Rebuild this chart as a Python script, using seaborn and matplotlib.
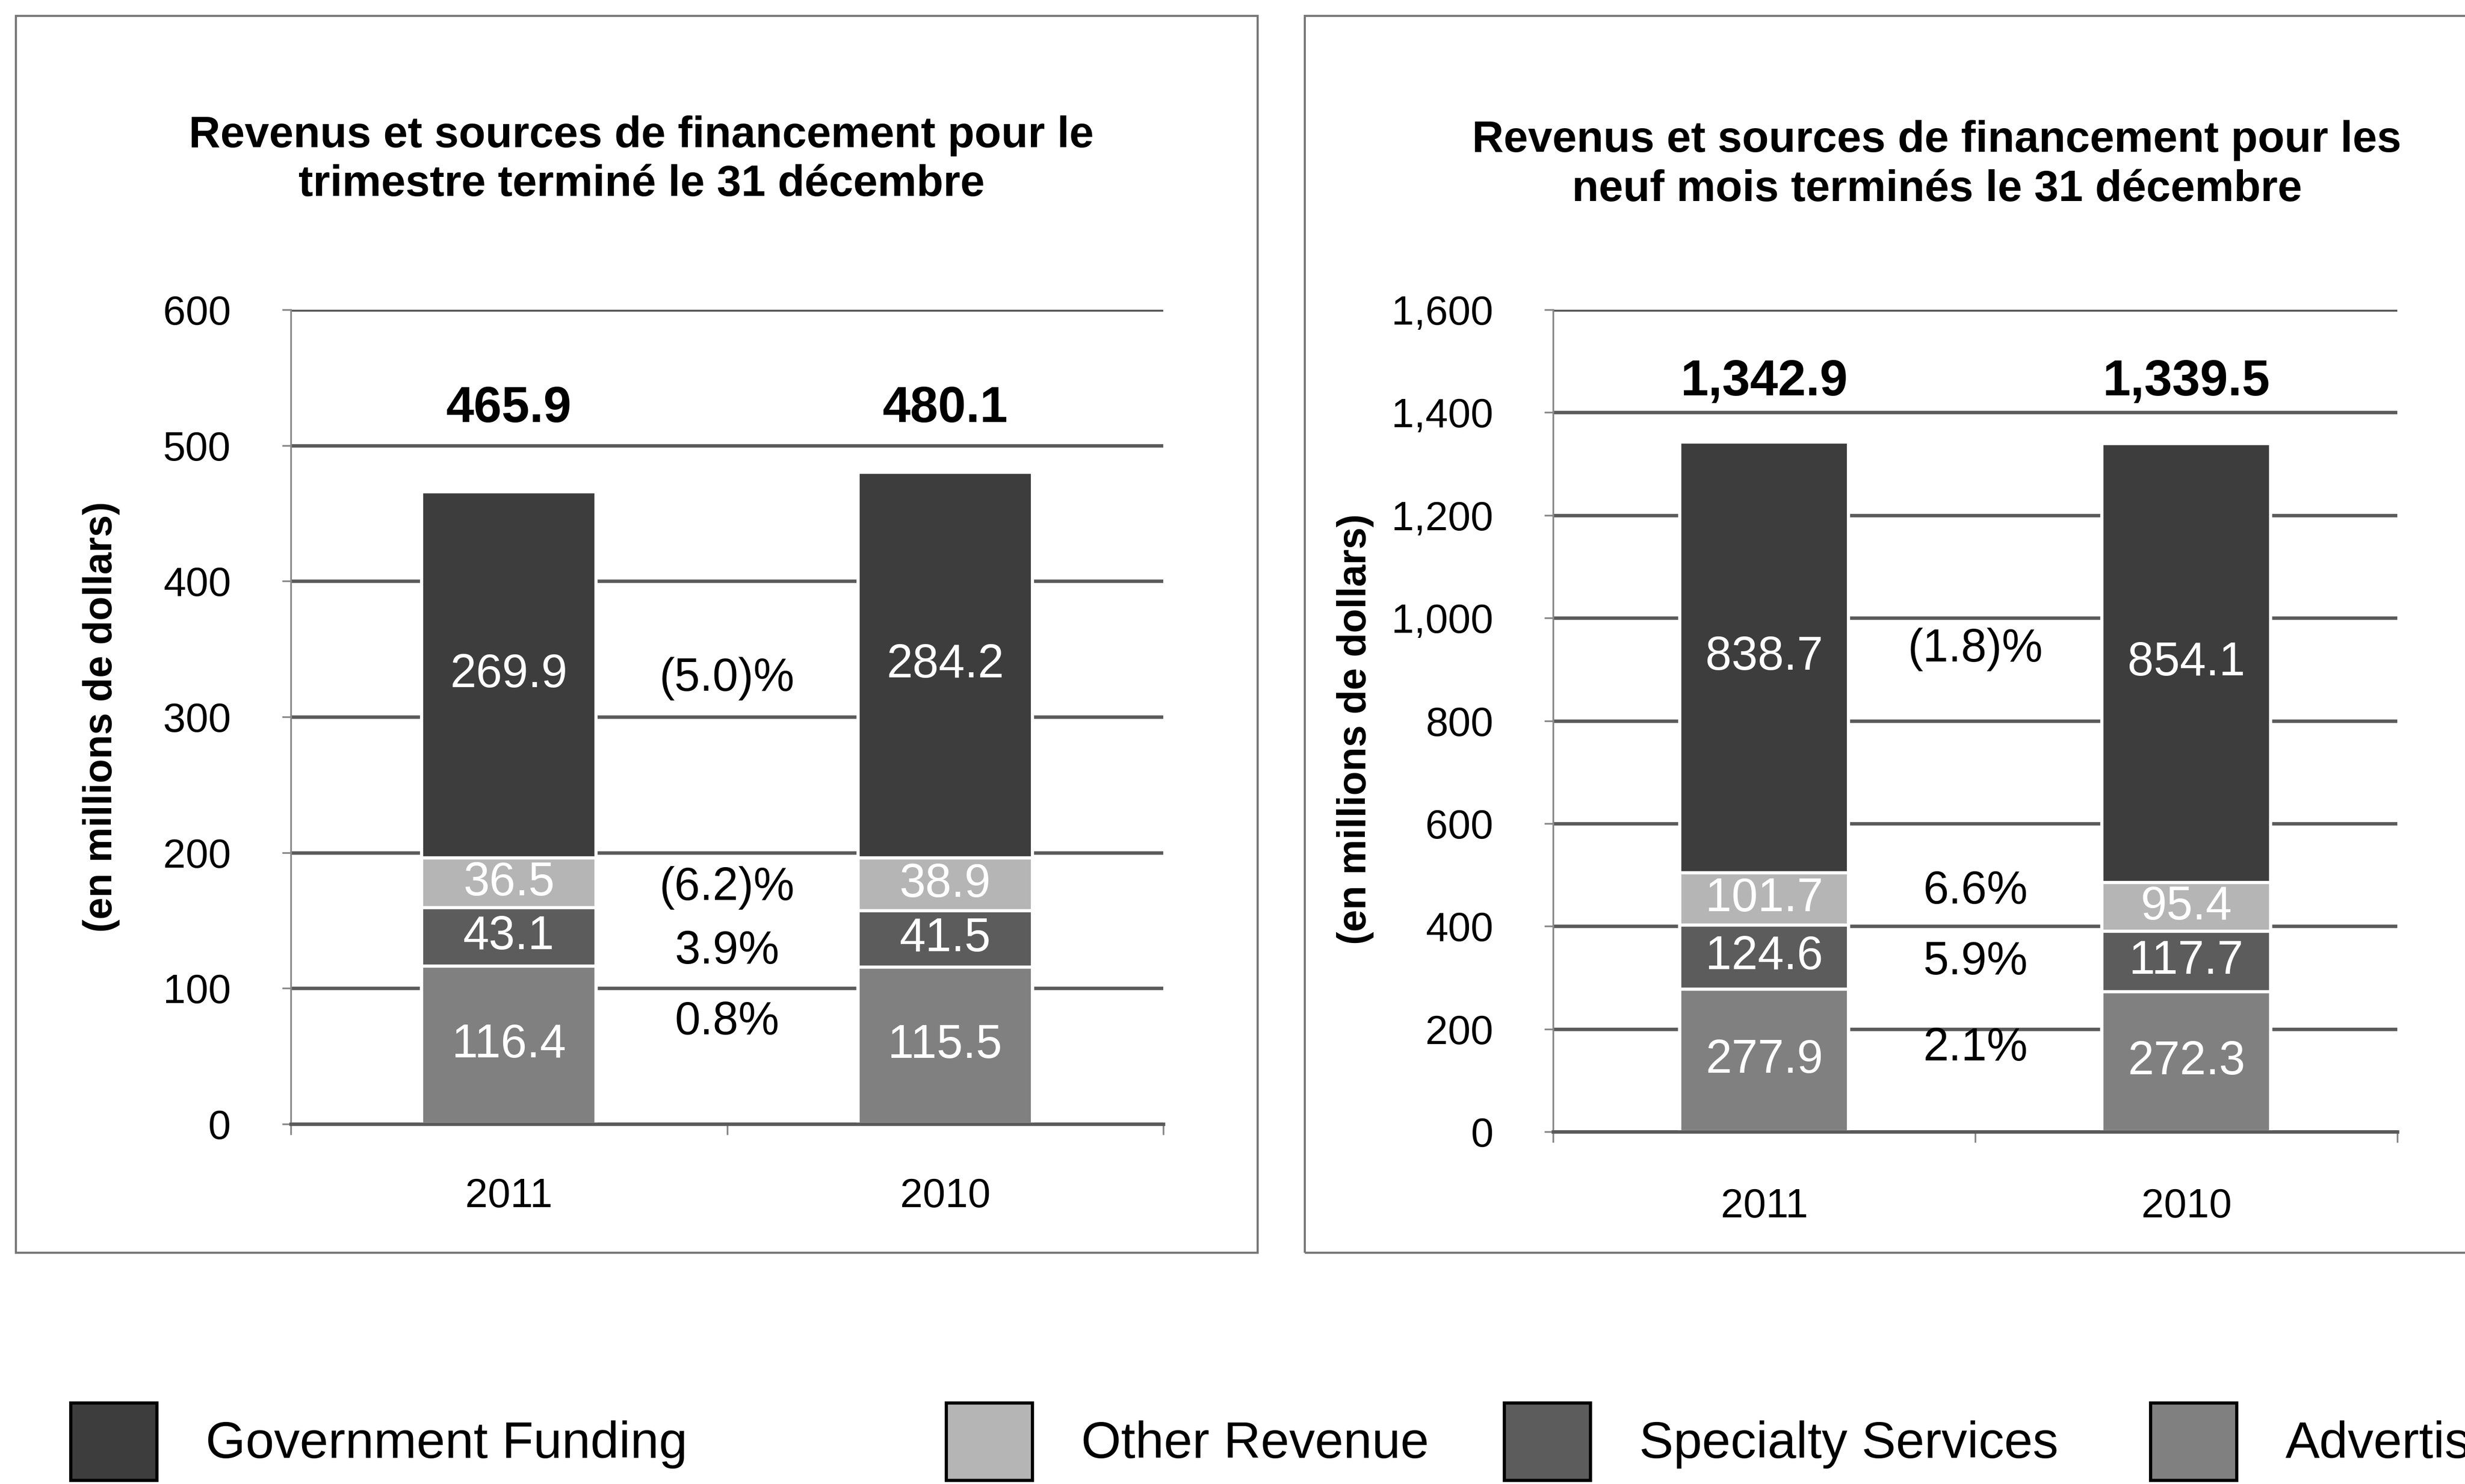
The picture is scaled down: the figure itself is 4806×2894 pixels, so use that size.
import pandas as pd
import matplotlib
matplotlib.use("Agg")
import matplotlib.pyplot as plt
import matplotlib.transforms as mtransforms
import seaborn as sns
from matplotlib.patches import Patch, Rectangle
from matplotlib.ticker import MultipleLocator, FuncFormatter

# -----------------------------
# data
# -----------------------------
years = ["2011", "2010"]
series = ["Government Funding", "Other Revenue", "Specialty Services", "Advertising"]

# trimestre (left panel)
q_gov = [269.9, 284.2]
q_other = [36.5, 38.9]
q_specialty = [43.1, 41.5]
q_advertising = [116.4, 115.5]
q_totals = [465.9, 480.1]
q_changes = ["(5.0)%", "(6.2)%", "3.9%", "0.8%"]

# neuf mois (right panel)
n_gov = [838.7, 854.1]
n_other = [101.7, 95.4]
n_specialty = [124.6, 117.7]
n_advertising = [277.9, 272.3]
n_totals = [1342.9, 1339.5]
n_changes = ["(1.8)%", "6.6%", "5.9%", "2.1%"]

colors = {
    "Government Funding": "#3d3d3d",
    "Other Revenue": "#b5b5b5",
    "Specialty Services": "#5c5c5c",
    "Advertising": "#808080",
}

sns.set_theme(style="white")
plt.rcParams["font.family"] = ["Liberation Sans", "DejaVu Sans"]
plt.rcParams["text.color"] = "black"
plt.rcParams["axes.labelcolor"] = "black"

fig = plt.figure(figsize=(4806 / 300, 2894 / 300), dpi=300)

# layout measured on a 1568 x 944 copy of the reference
W, H = 1568, 944


def fx(x):
    return x / W


def fy(y):
    return 1 - y / H


def panel(rect, parts, totals, changes, change_y, ymax, ystep, total_y, ylabel_xy, xpad):
    ax = fig.add_axes(rect)
    df = pd.DataFrame(dict(zip(series, parts)), index=years)
    stack = ["Advertising", "Specialty Services", "Other Revenue", "Government Funding"]
    cum = df[stack].cumsum(axis=1)

    # tallest first so each lower layer paints over it
    for name in stack[::-1]:
        sns.barplot(x=years, y=cum[name].values, order=years, color=colors[name],
                    width=0.4, saturation=1, edgecolor="white", linewidth=1.5,
                    errorbar=None, ax=ax)

    # values inside the segments
    for name in stack:
        mids = cum[name] - df[name] / 2
        for i, yr in enumerate(years):
            ax.text(i, mids[yr], f"{df.loc[yr, name]:.1f}", ha="center", va="center",
                    color="white", fontsize=22)

    # yearly change between the bars
    for txt, yv in zip(changes, change_y):
        ax.text(0.5, yv, txt, ha="center", va="center", fontsize=21.5)

    # totals above the bars
    tr = mtransforms.blended_transform_factory(ax.transData, ax.transAxes)
    for i, t in enumerate(totals):
        ax.text(i, total_y, f"{t:,.1f}", transform=tr, ha="center", va="center",
                fontsize=23.5, fontweight="bold")

    ax.set_ylim(0, ymax)
    ax.yaxis.set_major_locator(MultipleLocator(ystep))
    ax.yaxis.set_major_formatter(FuncFormatter(lambda v, p: f"{v:,.0f}"))
    ax.yaxis.grid(True, color="#5a5a5a", linewidth=1.6)
    ax.xaxis.grid(False)
    ax.set_axisbelow(True)

    for s in ["top", "right"]:
        ax.spines[s].set_visible(False)
    ax.spines["bottom"].set_color("#5a5a5a")
    ax.spines["bottom"].set_linewidth(1.6)
    ax.spines["left"].set_color("#888888")
    ax.spines["left"].set_linewidth(0.8)

    ax.tick_params(axis="y", left=True, length=4, width=0.8, color="#888888",
                   labelcolor="black", labelsize=19, pad=24)
    ax.set_xticks([-0.5, 0.5, 1.5], minor=True)
    ax.tick_params(axis="x", which="minor", bottom=True, length=5, width=0.8,
                   color="#888888", direction="out")
    ax.tick_params(axis="x", which="major", length=0, labelcolor="black",
                   labelsize=19, pad=xpad)
    ax.set_xlabel("")
    ax.set_ylabel("(en millions de dollars)", fontsize=18.5, fontweight="bold")
    ax.yaxis.set_label_coords(*ylabel_xy)
    return ax


left = panel([fx(185), fy(715), fx(740 - 185), (715 - 197) / H],
             [q_gov, q_other, q_specialty, q_advertising], q_totals, q_changes,
             [328, 174, 127, 75], 600, 100, 0.878, (-0.196, 0.5), 25)
right = panel([fx(988), fy(720), fx(1525 - 988), (720 - 197) / H],
              [n_gov, n_other, n_specialty, n_advertising], n_totals, n_changes,
              [939, 468, 330, 162], 1600, 200, 0.912, (-0.212, 0.49), 26)

# titles
fig.text(fx(408), fy(102), "Revenus et sources de financement pour le\ntrimestre terminé le 31 décembre",
         ha="center", va="center", fontsize=20.5, fontweight="bold", linespacing=1.25)
fig.text(fx(1232), fy(105), "Revenus et sources de financement pour les\nneuf mois terminés le 31 décembre",
         ha="center", va="center", fontsize=20.5, fontweight="bold", linespacing=1.25)

# panel frames
for x0, x1 in [(10, 800), (830, 1620)]:
    fig.add_artist(Rectangle((fx(x0), fy(797)), fx(x1 - x0), fy(10) - fy(797),
                             transform=fig.transFigure, fill=False,
                             edgecolor="#777777", linewidth=1.0))

# legend, one entry per box as in the reference
legend_x = [45, 602, 957, 1368]
for name, lx in zip(series, legend_x):
    h = Patch(facecolor=colors[name], edgecolor="black", linewidth=1.5, label=name)
    fig.legend(handles=[h], loc="center left", bbox_to_anchor=(fx(lx), fy(917)),
               frameon=False, fontsize=24, handlelength=1.68, handleheight=1.95,
               handletextpad=0.95, borderpad=0, borderaxespad=0)

fig.savefig("out.png", dpi=300)
